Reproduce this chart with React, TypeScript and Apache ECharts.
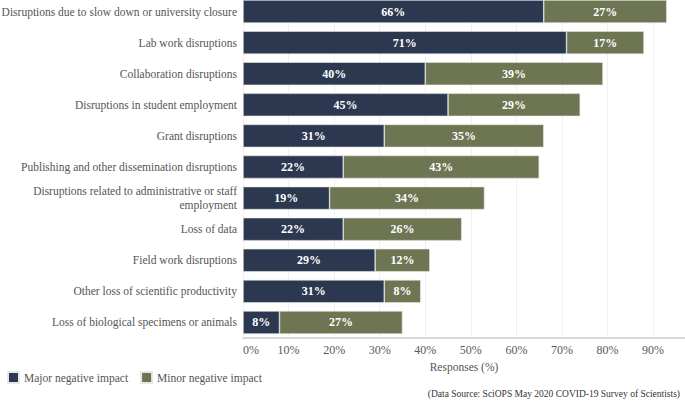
import React, { useEffect, useRef } from "react";
import * as echarts from "echarts";

const categories = [
  "Disruptions due to slow down or university closure",
  "Lab work disruptions",
  "Collaboration disruptions",
  "Disruptions in student employment",
  "Grant disruptions",
  "Publishing and other dissemination disruptions",
  "Disruptions related to administrative or staff\nemployment",
  "Loss of data",
  "Field work disruptions",
  "Other loss of scientific productivity",
  "Loss of biological specimens or animals",
];
const majorImpact = [66, 71, 40, 45, 31, 22, 19, 22, 29, 31, 8];
const minorImpact = [27, 17, 39, 29, 35, 43, 34, 26, 12, 8, 27];
const seriesNames = ["Major negative impact", "Minor negative impact"];
const axisTitle = "Responses (%)";
const sourceNote = "(Data Source: SciOPS May 2020 COVID-19 Survey of Scientists)";

const FONT = "Liberation Serif";

export default function App() {
  const ref = useRef<HTMLDivElement>(null);
  useEffect(() => {
    if (!ref.current) return;
    const chart = echarts.init(ref.current, undefined, { renderer: "svg" });
    const labelCfg = {
      show: true,
      position: "inside",
      color: "#ffffff",
      fontFamily: FONT,
      fontWeight: "bold",
      fontSize: 12,
      formatter: (p: any) => p.value + "%",
    };
    chart.setOption({
      animation: false,
      backgroundColor: "#ffffff",
      textStyle: { fontFamily: FONT },
      grid: {
        left: 243,
        right: 0,
        top: -4,
        bottom: 66,
        containLabel: false,
        outerBoundsMode: "none",
      },
      legend: {
        left: 7,
        top: 371,
        padding: 0,
        itemWidth: 11,
        itemHeight: 11,
        itemGap: 12,
        icon: "rect",
        textStyle: { color: "#555555", fontFamily: FONT, fontSize: 11.5 },
        data: seriesNames,
      },
      xAxis: {
        type: "value",
        min: 0,
        max: 97,
        interval: 10,
        name: axisTitle,
        nameLocation: "middle",
        nameGap: 23,
        nameTextStyle: { color: "#555555", fontFamily: FONT, fontSize: 11.5 },
        axisLine: { show: true, lineStyle: { color: "#cccccc", width: 1.5 } },
        axisTick: { show: false },
        splitLine: { show: true, lineStyle: { color: "#f0f0f0" } },
        axisLabel: {
          color: "#595959",
          fontFamily: FONT,
          fontSize: 12,
          margin: 6,
          alignMinLabel: "left",
          formatter: (v: number) => (v % 10 === 0 ? v + "%" : ""),
        },
      },
      yAxis: {
        type: "category",
        inverse: true,
        data: categories,
        axisLine: { show: false },
        axisTick: { show: false },
        axisLabel: {
          color: "#555555",
          fontFamily: FONT,
          fontSize: 11.5,
          margin: 6,
          lineHeight: 14,
          align: "right",
        },
      },
      series: [
        {
          name: seriesNames[0],
          type: "bar",
          stack: "total",
          data: majorImpact,
          barWidth: 23,
          itemStyle: { color: "#2b384f", borderColor: "#e8e8e8", borderWidth: 0.6 },
          label: labelCfg,
        },
        {
          name: seriesNames[1],
          type: "bar",
          stack: "total",
          data: minorImpact,
          barWidth: 23,
          itemStyle: { color: "#6e7552", borderColor: "#e8e8e8", borderWidth: 0.6 },
          label: labelCfg,
        },
      ],
      graphic: [
        {
          type: "text",
          right: 5,
          top: 389,
          style: {
            text: sourceNote,
            fill: "#333333",
            fontFamily: FONT,
            fontSize: 9.5,
          },
        },
      ],
    });
    return () => chart.dispose();
  }, []);
  return <div ref={ref} style={{ width: 685, height: 404, position: "fixed", left: 0, top: 0 }} />;
}
